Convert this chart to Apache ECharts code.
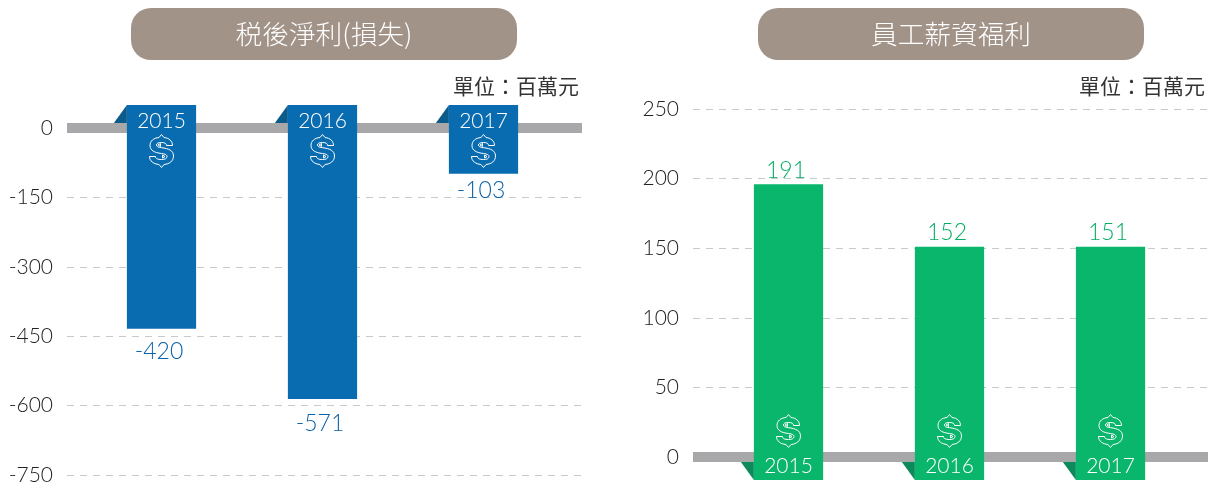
<!DOCTYPE html>
<html><head><meta charset="utf-8">
<style>html,body{margin:0;padding:0;background:#fff}#c{width:1215px;height:487px}</style>
<script src="https://cdn.jsdelivr.net/npm/echarts@6/dist/echarts.min.js"></script></head>
<body><div id="c"></div>
<script>
const years = [2015, 2016, 2017];
const netTitle = '税後淨利(損失)';
const payTitle = '員工薪資福利';
const unitText = '單位：百萬元';
// labelled values, and the length each bar is actually drawn to in the source picture
const netLabels = [-420, -571, -103];
const netDrawn = [-434, -586, -99];
const payLabels = [191, 152, 151];
const payDrawn = [196, 151, 151];
const netTicks = [0, -150, -300, -450, -600, -750];
const payTicks = [0, 50, 100, 150, 200, 250];

const LATIN = 'Lato, "Noto Sans", sans-serif';
const CJK = '"Noto Sans CJK TC", sans-serif';
const GREY = '#a8a8aa';
const netGap = [23, 24, 17];
const DOLLAR = 'M12 0L14.5 3C19.5 3.5 23 6.5 23 11L17 11C17 9 15.5 8 12 8C8.5 8 7 9 7 10.5C7 12 8.5 12.8 12 13.2C19 14 24 16 24 21.5C24 26.5 20 29.5 14.5 30L12 33L9.5 30C4 29.5 0 26.5 0 22L6 22C6 24 8 25 12 25C15.5 25 17.5 24 17.5 22C17.5 20.5 16 19.5 12 19C5 18.2 0.5 16 0.5 11C0.5 6.5 4 3.5 9.5 3Z' +
  'M11 9L8.5 10.5L11 12ZM13 20.5L15.5 22L13 23.5Z';

function makeRender(barColor, tabColor, textColor, up) {
  return function (params, api) {
    const i = params.dataIndex;
    const year = api.value(0);
    const zero = api.coord([year, 0]);
    const tip = api.coord([year, api.value(2)]);
    const w = api.size([1, 0])[0] * 0.43;
    const x0 = zero[0] - w / 2;
    const overshoot = 23;
    const end = up ? zero[1] + overshoot : zero[1] - overshoot;
    const tabBase = up ? zero[1] + 5 : zero[1] - 5;
    const dir = up ? 1 : -1;
    const yearY = up ? zero[1] + 9 : zero[1] - 7;
    const iconY = up ? zero[1] - 26 : zero[1] + 23;
    const gap = up ? 14 : netGap[i];
    const children = [
      { type: 'polygon', shape: { points: [[x0, end], [x0 - 13, tabBase], [x0, tabBase]] }, style: { fill: tabColor } },
      { type: 'rect', shape: { x: x0, y: Math.min(tip[1], end), width: w, height: Math.abs(tip[1] - end) }, style: { fill: barColor } },
      { type: 'text', x: zero[0], y: yearY, style: { text: String(year), fill: '#fff', font: '300 21px ' + LATIN, align: 'center', verticalAlign: 'middle' } },
      { type: 'path', shape: { pathData: DOLLAR, layout: 'center', x: zero[0] - 12, y: iconY - 16.5, width: 24, height: 33 }, style: { fill: 'none', stroke: '#fff', lineWidth: 1 } },
      { type: 'text', x: zero[0] - 2.5, y: tip[1] - dir * gap, z2: 10, style: { text: String(api.value(1)), fill: textColor, font: '300 23px ' + LATIN, align: 'center', verticalAlign: 'middle' } }
    ];
    return { type: 'group', children };
  };
}

function pill(x, text) {
  return [
    { type: 'rect', shape: { x, y: 8, width: 386, height: 52, r: 20 }, style: { fill: '#a29389' }, silent: true },
    { type: 'text', x: x + 193, y: 34, style: { text, fill: '#fff', font: '300 26.7px ' + CJK, align: 'center', verticalAlign: 'middle' }, silent: true }
  ];
}
function unit(x) {
  return { type: 'text', x, y: 86, style: { text: unitText, fill: '#333', font: '21px ' + CJK, align: 'right', verticalAlign: 'middle' }, silent: true };
}
function xAxis(gridIndex, center0, left) {
  return {
    type: 'value', gridIndex,
    min: years[0] + (left - center0) / 161,
    max: years[0] + (left + 515 - center0) / 161,
    axisLine: { show: true, onZero: true, lineStyle: { color: GREY, width: 10, cap: 'butt' } },
    axisTick: { show: false }, axisLabel: { show: false }, splitLine: { show: false }
  };
}
function yAxis(gridIndex, min, max, interval) {
  return {
    type: 'value', gridIndex, min, max, interval,
    axisLine: { show: false }, axisTick: { show: false },
    axisLabel: { color: '#222', fontFamily: LATIN, fontWeight: 300, fontSize: 21, margin: 14, padding: [2, 0, 0, 0] },
    splitLine: { show: true, lineStyle: { color: '#c9c9c9', type: [7, 6], width: 1 } }
  };
}

const chart = echarts.init(document.getElementById('c'), null, { renderer: 'canvas' });
chart.setOption({
  backgroundColor: '#fff',
  animation: false,
  grid: [
    { left: 67, top: 128, width: 515, height: 347 },
    { left: 693, top: 109, width: 515, height: 348 }
  ],
  xAxis: [xAxis(0, 161.5, 67), xAxis(1, 788.5, 693)],
  yAxis: [
    yAxis(0, netTicks[netTicks.length - 1], netTicks[0], 150),
    yAxis(1, payTicks[0], payTicks[payTicks.length - 1], 50)
  ],
  graphic: { elements: [...pill(131, netTitle), ...pill(758, payTitle), unit(579), unit(1205)] },
  series: [
    {
      type: 'custom', xAxisIndex: 0, yAxisIndex: 0, clip: false, z: 5,
      encode: { x: 0, y: 1 },
      data: years.map((y, i) => [y, netLabels[i], netDrawn[i]]),
      renderItem: makeRender('#0a6cb0', '#0b5c8a', '#0a62a8', false)
    },
    {
      type: 'custom', xAxisIndex: 1, yAxisIndex: 1, clip: false, z: 5,
      encode: { x: 0, y: 1 },
      data: years.map((y, i) => [y, payLabels[i], payDrawn[i]]),
      renderItem: makeRender('#0ab56c', '#0c8a5a', '#06ad62', true)
    }
  ]
});
</script></body></html>
